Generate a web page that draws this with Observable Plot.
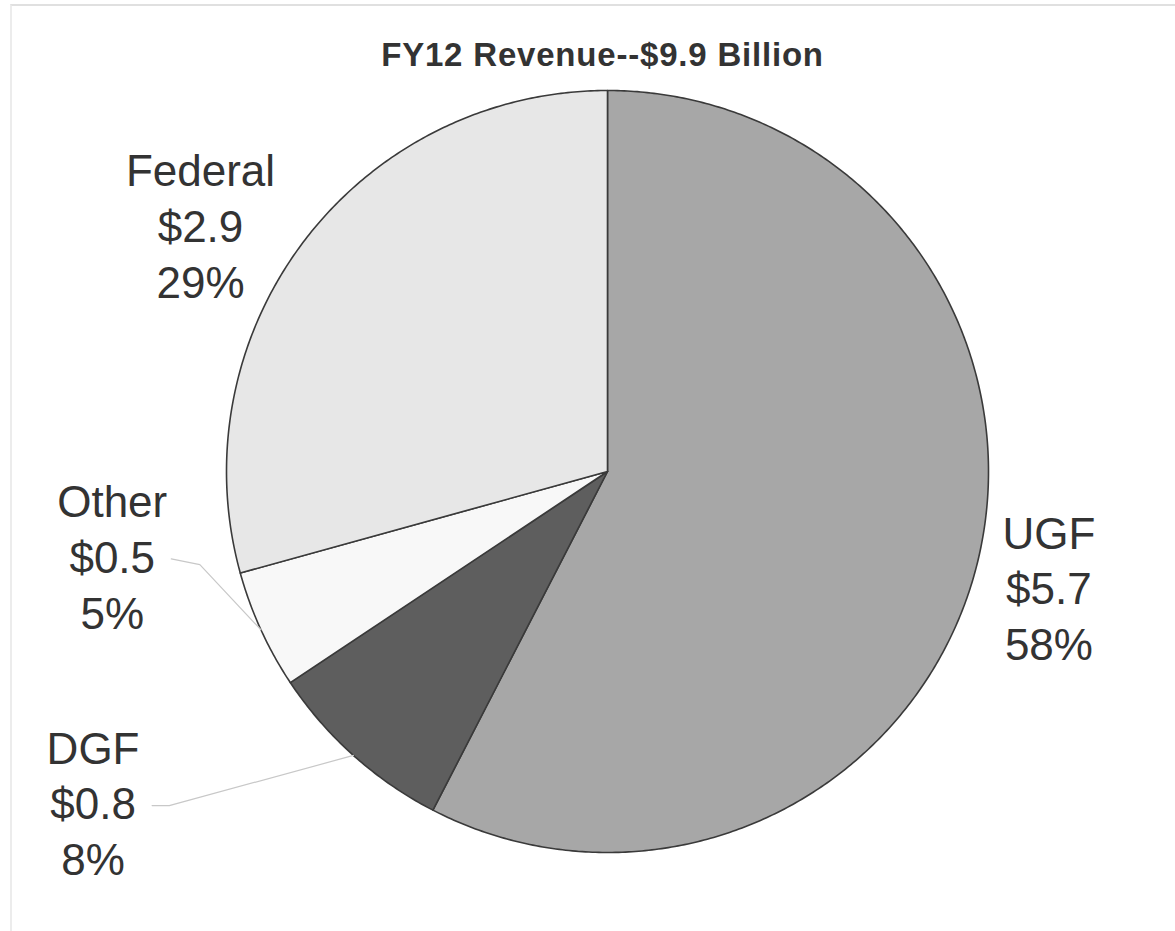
<!DOCTYPE html>
<html>
<head>
<meta charset="utf-8">
<script src="https://cdn.jsdelivr.net/npm/d3@7"></script>
<script src="https://cdn.jsdelivr.net/npm/@observablehq/plot@0.6"></script>
<style>
  html, body { margin: 0; padding: 0; background: #fff; }
  body { position: relative; width: 1175px; height: 931px; overflow: hidden; }
  #chart svg { display: block; }
  #chart .chart-title, #chart .chart-title text { letter-spacing: 0.8px; }
  #edge { position: absolute; left: 10px; top: 4px; right: 0; bottom: 0;
          border-top: 2px solid #e0e0e0; border-left: 2px solid #ececec; pointer-events: none; }
</style>
</head>
<body>
<div id="chart"></div>
<div id="edge"></div>
<script>
// ---- data ----
const title = "FY12 Revenue--$9.9 Billion";
const names = ["UGF", "DGF", "Other", "Federal"];
const amounts = [5.7, 0.8, 0.5, 2.9]; // $ billions
const sliceColors = ["#a7a7a7", "#5e5e5e", "#f8f8f8", "#e7e7e7"];

// label placement (polar: degrees clockwise from 12 o'clock, radius in pie radii)
const labelAngle = [105.1, 237.0, 260.0, 300.9];
const labelRadius = [1.2, 1.61, 1.32, 1.245];
const hasLeader = [false, true, true, false];

// ---- derived ----
const total = d3.sum(amounts);
const arcs = d3.pie().sort(null).startAngle(0).endAngle(2 * Math.PI)(amounts);
const polar = (a, r) => [r * Math.sin(a), r * Math.cos(a)];

const slicePts = [];
arcs.forEach((arc, i) => {
  const n = Math.max(2, Math.ceil((arc.endAngle - arc.startAngle) / (Math.PI / 360)));
  slicePts.push({name: names[i], x: 0, y: 0});
  for (let k = 0; k <= n; ++k) {
    const a = arc.startAngle + (arc.endAngle - arc.startAngle) * k / n;
    const [x, y] = polar(a, 1);
    slicePts.push({name: names[i], x, y});
  }
  slicePts.push({name: names[i], x: 0, y: 0});
});

const labels = names.map((name, i) => {
  const [x, y] = polar(labelAngle[i] * Math.PI / 180, labelRadius[i]);
  const pct = Math.round(amounts[i] / total * 100);
  return {name, x, y, text: `${name}\n$${amounts[i].toFixed(1)}\n${pct}%`};
});

const leaders = [];
names.forEach((name, i) => {
  if (!hasLeader[i]) return;
  const lab = labels[i];
  const mid = (arcs[i].startAngle + arcs[i].endAngle) / 2;
  const [ex, ey] = polar(mid, 1);
  const sx = lab.x + 0.155;
  leaders.push({name, x: sx, y: lab.y});
  leaders.push({name, x: sx + (name === "Other" ? 0.075 : 0.045), y: lab.y - (name === "Other" ? 0.015 : 0)});
  leaders.push({name, x: ex, y: ey});
});

const font = "'Liberation Sans', Arial, Helvetica, sans-serif";

const chart = Plot.plot({
  width: 1175,
  height: 931,
  marginLeft: 226,
  marginRight: 187,
  marginTop: 90,
  marginBottom: 79,
  x: {domain: [-1, 1], axis: null},
  y: {domain: [-1, 1], axis: null},
  color: {type: "ordinal", domain: names, range: sliceColors},
  style: {fontFamily: font, background: "#fff"},
  marks: [
    Plot.line(slicePts, {x: "x", y: "y", z: "name", fill: "name", stroke: "#3a3a3a", strokeWidth: 1.6, strokeLinejoin: "round", curve: "linear"}),
    Plot.line(leaders, {x: "x", y: "y", z: "name", stroke: "#c8c8c8", strokeWidth: 1.2}),
    Plot.text(labels, {x: "x", y: "y", text: "text", dy: -4, fontSize: 44, lineHeight: 1.27, textAnchor: "middle", lineAnchor: "middle", fill: "#333"}),
    Plot.text([title], {frameAnchor: "top", text: d => d, dx: -5, dy: -25, lineAnchor: "bottom", fontSize: 33, fontWeight: "bold", fill: "#333", fontFamily: "'Liberation Sans', Arial, sans-serif", className: "chart-title"})
  ]
});
document.getElementById("chart").appendChild(chart);
</script>
</body>
</html>
